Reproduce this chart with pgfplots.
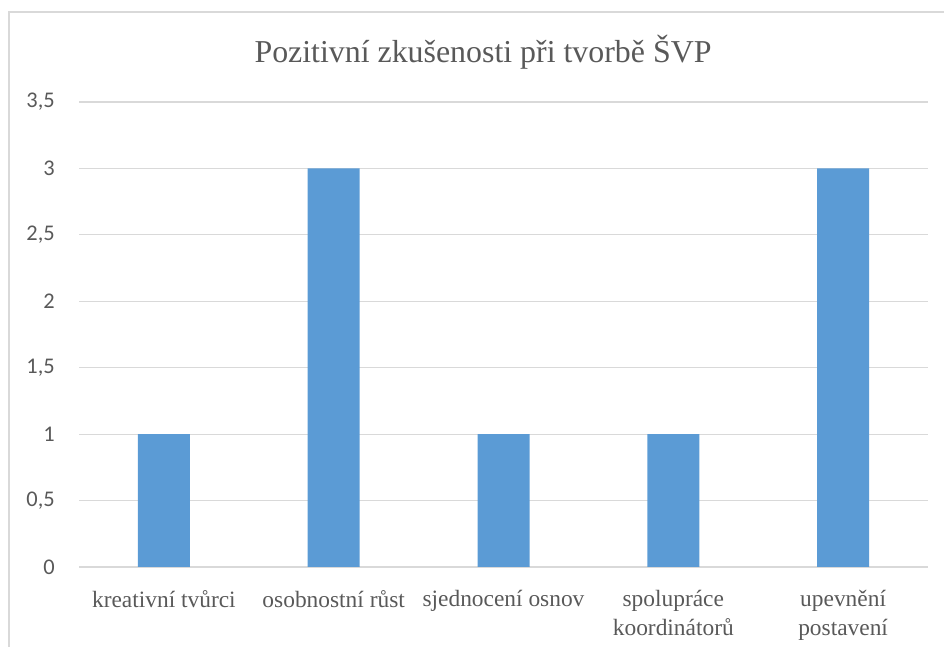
\documentclass[border=0pt]{standalone}
\usepackage{fontspec}
\setmainfont{Liberation Serif}
\newfontfamily\carlito{Carlito}
\usepackage{pgfplots}
\pgfplotsset{compat=1.18}
\definecolor{barblue}{HTML}{5B9BD5}
\definecolor{txtgray}{HTML}{595959}
\definecolor{gridgray}{HTML}{D9D9D9}
\definecolor{framegray}{HTML}{D9D9D9}
\begin{document}
\begin{tikzpicture}[x=1bp,y=1bp]
\useasboundingbox (0,0) rectangle (944,647);
\draw[framegray, line width=1.2bp] (9,0) -- (9,635) -- (944,635);
\node[anchor=base, text=txtgray, font=\fontsize{32}{38}\selectfont] at (483,584) {Pozitivní zkušenosti při tvorbě ŠVP};
\begin{axis}[
  at={(79bp,80bp)}, anchor=south west,
  scale only axis, width=849bp, height=465bp,
  ybar, bar width=52bp,
  xmin=-0.5, xmax=4.5, ymin=0, ymax=3.5,
  ytick={0,0.5,1,1.5,2,2.5,3,3.5},
  xtick={0,1,2,3,4},
  xticklabels={{kreativní tvůrci},{osobnostní růst},{sjednocení osnov},{spolupráce\\koordinátorů},{upevnění\\postavení}},
  ymajorgrids, grid style={gridgray, line width=1.2bp},
  axis line style={draw=none},
  major tick style={draw=none},
  /pgf/number format/use comma,
  /pgf/number format/assume math mode=true,
  yticklabel style={font=\carlito\fontsize{22.5}{26}\selectfont, text=txtgray, anchor=east, inner sep=0pt, xshift=-24bp},
  xticklabel style={font=\fontsize{23.5}{28.5}\selectfont, text=txtgray, align=center, anchor=north, inner sep=0pt, yshift=-19bp},
  clip=false,
]
\addplot[fill=barblue, draw=none] coordinates {(0,1) (1,3) (2,1) (3,1) (4,3)};
\end{axis}
\end{tikzpicture}
\end{document}
